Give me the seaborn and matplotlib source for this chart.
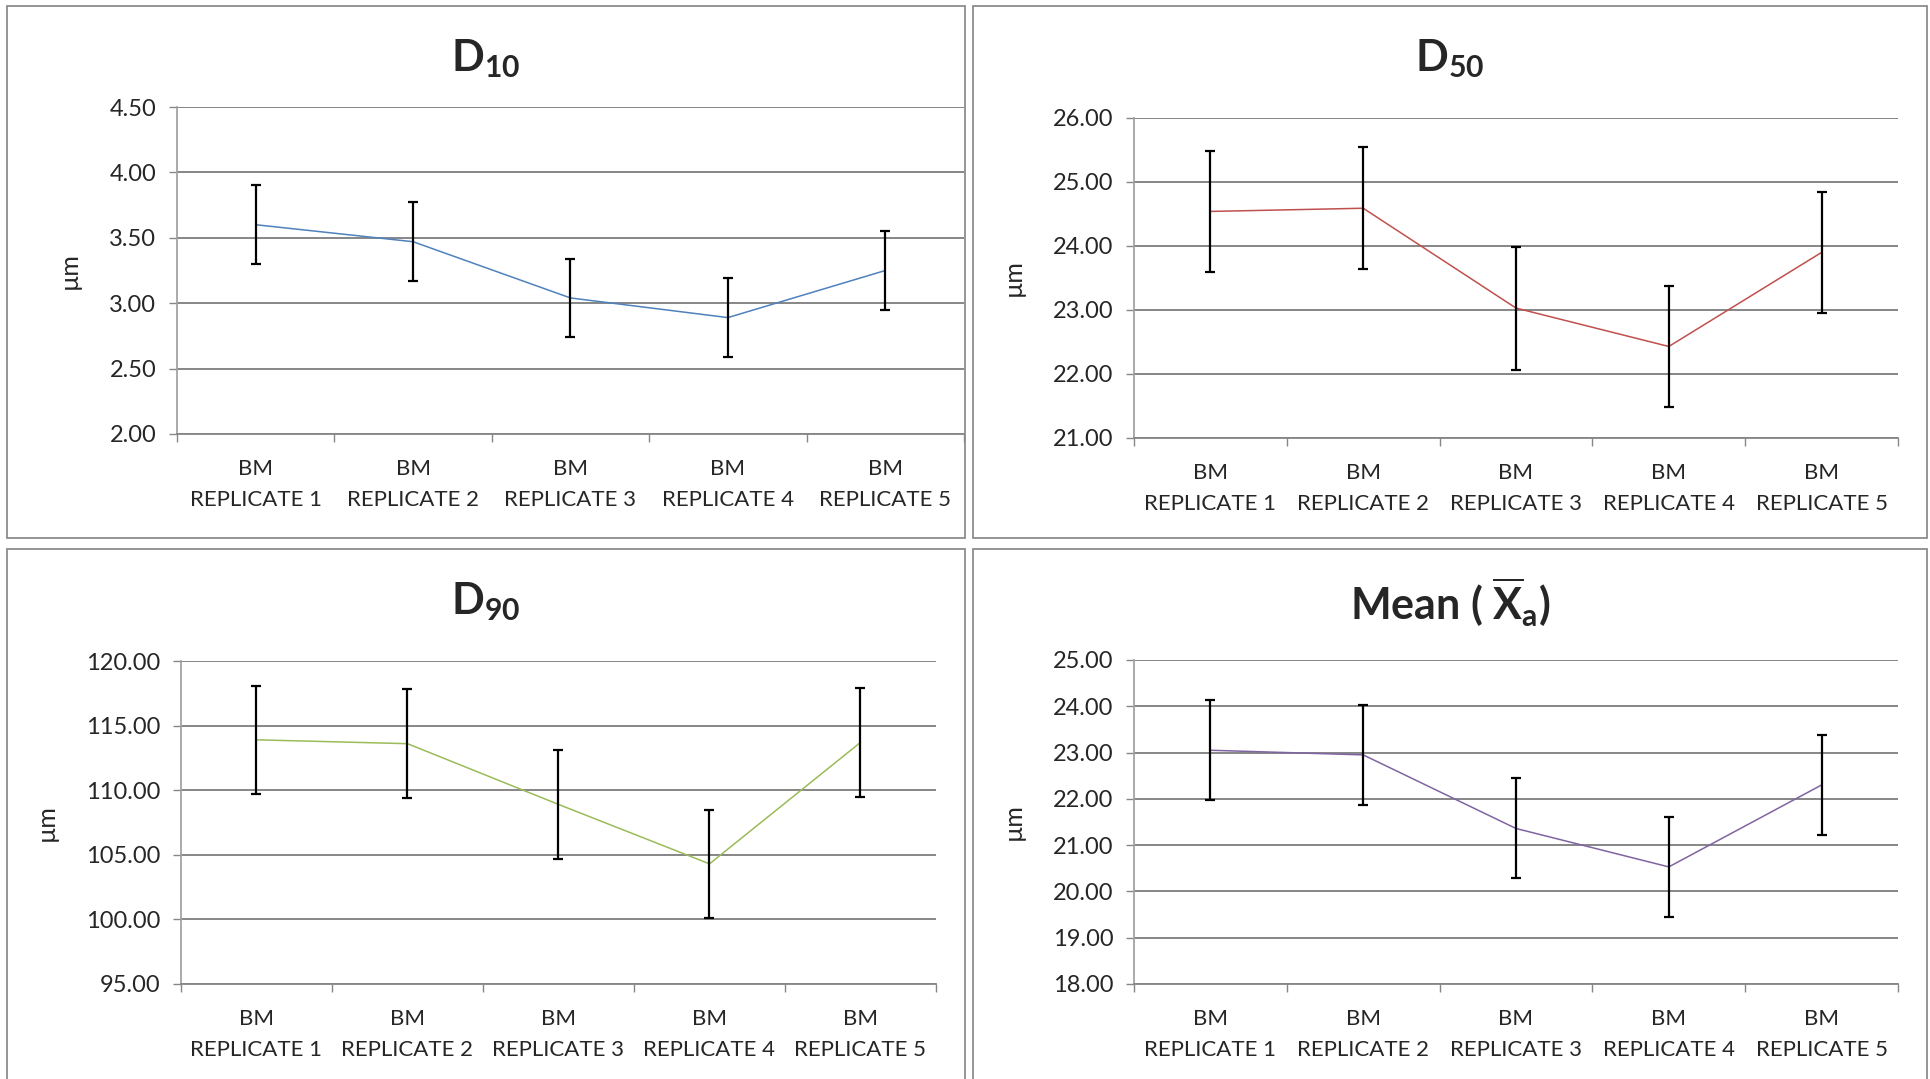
import numpy as np
import pandas as pd
import seaborn as sns
import matplotlib.pyplot as plt
from matplotlib.patches import Rectangle
from matplotlib.ticker import FormatStrFormatter, FixedLocator

W, H = 1931, 1079

categories = ["BM\nREPLICATE 1", "BM\nREPLICATE 2", "BM\nREPLICATE 3",
              "BM\nREPLICATE 4", "BM\nREPLICATE 5"]

d10_values = [3.60, 3.47, 3.04, 2.89, 3.25]
d10_errors = [0.30, 0.30, 0.30, 0.30, 0.30]

d50_values = [24.54, 24.59, 23.03, 22.43, 23.90]
d50_errors = [0.95, 0.95, 0.96, 0.95, 0.95]

d90_values = [113.9, 113.6, 108.9, 104.3, 113.7]
d90_errors = [4.2, 4.2, 4.2, 4.2, 4.2]

mean_values = [23.05, 22.95, 21.36, 20.53, 22.30]
mean_errors = [1.08, 1.08, 1.08, 1.08, 1.09]

sns.set_theme(style="white")
plt.rcParams['font.family'] = ['Lato', 'DejaVu Sans']
plt.rcParams['mathtext.fontset'] = 'custom'
plt.rcParams['mathtext.rm'] = 'Lato'
plt.rcParams['mathtext.bf'] = 'Lato:bold'
plt.rcParams['mathtext.it'] = 'Lato:italic'

GRID = '#868686'
BORDER = '#8c8c8c'

# name, values, errors, colour, y range, step, panel box (px), axes box (px), ylabel x (px)
panels = [
    (r"D$\mathbf{_{10}}$", d10_values, d10_errors, '#4F81BD', (2.0, 4.5), 0.5,
     (7, 6, 965, 538), (177, 107, 964, 434), 81),
    (r"D$\mathbf{_{50}}$", d50_values, d50_errors, '#C0504D', (21.0, 26.0), 1.0,
     (973, 6, 1927, 538), (1134, 118, 1898, 438), 1025),
    (r"D$\mathbf{_{90}}$", d90_values, d90_errors, '#9BBB59', (95.0, 120.0), 5.0,
     (7, 549, 965, 1100), (181, 661, 936, 984), 58),
    (r"Mean ( $\mathbf{\overline{X}_a}$)", mean_values, mean_errors, '#8064A2', (18.0, 25.0), 1.0,
     (973, 549, 1927, 1100), (1134, 660, 1898, 984), 1025),
]

fig = plt.figure(figsize=(W / 100, H / 100), dpi=100)

for title, values, errors, color, (ymin, ymax), step, pbox, abox, ylab_x in panels:
    # chart area border
    x0, y0, x1, y1 = pbox
    fig.patches.append(Rectangle((x0 / W, 1 - y1 / H), (x1 - x0) / W, (y1 - y0) / H,
                                 transform=fig.transFigure, fill=False,
                                 edgecolor=BORDER, linewidth=1.3))
    fig.text((x0 + x1) / 2 / W, 1 - (y0 + 53) / H, title, ha='center', va='center',
             fontsize=31, fontweight='bold')

    l, t, r, b = abox
    ax = fig.add_axes([l / W, 1 - b / H, (r - l) / W, (b - t) / H])
    df = pd.DataFrame({'x': np.arange(len(categories)), 'y': values})
    sns.lineplot(data=df, x='x', y='y', ax=ax, color=color, linewidth=1.1)
    ax.errorbar(df['x'], df['y'], yerr=errors, fmt='none', ecolor='black',
                elinewidth=1.6, capsize=3.5, capthick=1.6, zorder=4)

    ax.set_xlim(-0.5, len(categories) - 0.5)
    ax.set_ylim(ymin, ymax)
    ax.set_yticks(np.arange(ymin, ymax + step / 2, step))
    ax.yaxis.set_major_formatter(FormatStrFormatter('%.2f'))
    ax.grid(axis='y', color=GRID, linewidth=1.4)
    ax.set_axisbelow(True)

    ax.xaxis.set_major_locator(FixedLocator(np.arange(-0.5, len(categories), 1.0)))
    ax.set_xticklabels([])
    ax.xaxis.set_minor_locator(FixedLocator(np.arange(len(categories))))
    ax.set_xticklabels(categories, minor=True)
    ax.tick_params(axis='x', which='major', length=6, width=1, color=GRID, direction='out', bottom=True)
    ax.tick_params(axis='x', which='minor', length=0, pad=18, labelsize=16)
    ax.tick_params(axis='y', length=6, width=1, color=GRID, direction='out', left=True,
                   pad=9, labelsize=17)
    for lab in ax.get_xticklabels(minor=True):
        lab.set_linespacing(1.7)

    for side in ['top', 'right']:
        ax.spines[side].set_visible(False)
    ax.spines['left'].set_color('#a0a0a0')
    ax.spines['bottom'].set_color(GRID)
    ax.spines['bottom'].set_linewidth(1.3)

    ax.set_xlabel('')
    ax.set_ylabel('µm', fontsize=18)
    ax.yaxis.set_label_coords((ylab_x - l) / (r - l), 0.5)

fig.savefig('out.png', dpi=100)
